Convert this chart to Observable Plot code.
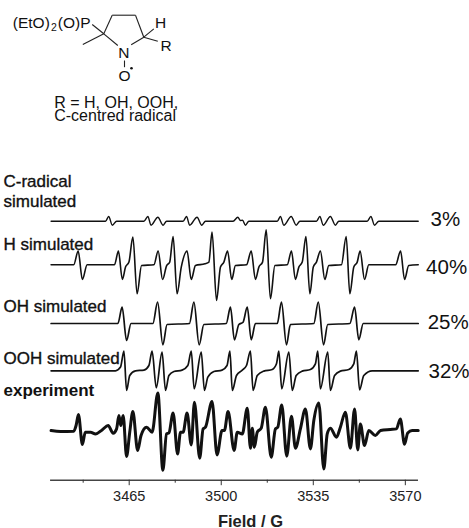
<!DOCTYPE html>
<html><head><meta charset="utf-8">
<script src="https://cdn.jsdelivr.net/npm/d3@7"></script>
<script src="https://cdn.jsdelivr.net/npm/@observablehq/plot@0.6"></script>
<style>html,body{margin:0;padding:0;background:#fff}svg{display:block}</style>
</head><body><div id="structureBox"></div><div id="chartBox"></div>
<script>
// ---- spectra: field (G) and intensity (a.u.)
const cField=[3435.3,3456.0,3457.2,3458.6,3460.2,3470.6,3472.1,3473.3,3475.9,3477.9,3479.2,3485.5,3486.8,3488.0,3490.8,3492.6,3494.0,3504.5,3506.3,3507.3,3508.1,3509.2,3510.5,3521.3,3522.5,3523.8,3526.6,3528.5,3529.9,3536.2,3537.5,3538.8,3541.5,3543.4,3544.7,3555.5,3556.9,3558.3,3559.9,3574.9];
const cValue=[0,0,4.7,-4,0,0,4.7,-4,4,-4,0,0,4.7,-4,4,-4,0,0,4,.7,1,-4,0,0,4.7,-4,4.7,-4,0,0,4.7,-4,4.7,-4,0,0,4.7,-4,0,0];
const hField=[3435.3,3443.9,3445.6,3447.2,3449.0,3459.4,3460.9,3462.4,3463.6,3464.9,3466.4,3468.0,3469.7,3474.4,3476.0,3477.7,3479.2,3480.4,3481.7,3483.2,3484.8,3487.0,3488.6,3490.2,3493.8,3495.3,3496.5,3498.2,3499.7,3501.0,3502.4,3504.0,3505.4,3509.6,3511.4,3513.0,3514.3,3515.7,3517.1,3518.7,3520.4,3525.1,3526.7,3528.2,3529.5,3530.8,3532.2,3533.7,3535.0,3536.2,3537.7,3539.4,3540.9,3545.7,3547.5,3548.9,3550.4,3551.7,3552.8,3554.5,3556.1,3566.3,3568.2,3569.7,3571.3,3574.9];
const hValue=[0,0,13.7,-14.7,0,0,13.7,-14.7,-2.3,2.7,27.7,-29,-.7,0,13.7,-14.7,-1,2.7,28.3,-29,-2.3,13.7,-14.7,-.7,1,2.7,32.7,-35.7,-2.3,2.7,13.7,-14.7,-.7,0,13.7,-14.7,-2.3,2.7,35,-34,-.7,0,13.7,-14.7,-2.3,2.7,28.3,-29,-2.3,2.7,13.7,-14.7,-.7,0,28.3,-29,-2.3,2.7,13.7,-14.7,0,0,13.7,-14.7,-.7,0];
const ohField=[3435.3,3460.7,3462.3,3464.0,3465.7,3474.0,3475.8,3477.8,3479.4,3487.9,3489.6,3491.6,3493.4,3501.9,3503.5,3505.0,3506.7,3508.3,3509.9,3511.4,3513.0,3521.3,3522.9,3524.8,3526.3,3535.2,3536.9,3538.9,3540.5,3548.9,3550.7,3552.3,3554.0,3574.9];
const ohValue=[0,0,16.3,-17,0,0,21.3,-21.3,-1,0,21.3,-21.3,-1,0,16.3,-16.3,-1,1.3,16.3,-16.3,0,0,21.3,-21.3,-1,0,21.3,-21.3,-1,0,16.3,-16.3,0,0];
const oohField=[3435.3,3459.8,3461.7,3463.0,3464.0,3465.2,3467.4,3470.6,3472.5,3473.7,3475.3,3477.5,3478.8,3480.1,3482.0,3485.1,3487.3,3488.6,3489.7,3492.4,3493.6,3494.9,3497.2,3500.3,3502.2,3503.3,3504.2,3505.8,3508.0,3509.6,3511.1,3512.1,3513.7,3516.2,3519.4,3521.0,3521.9,3523.0,3525.7,3527.0,3528.5,3530.8,3533.9,3535.8,3536.7,3537.7,3540.5,3541.5,3543.1,3545.3,3548.5,3550.4,3551.4,3552.6,3554.2,3557.4,3574.9];
const oohValue=[0,0,3.7,19.7,-19.7,-4.7,0,.7,5.3,19.7,-17,18.7,-19.7,-4.7,-.7,.7,5.3,19.7,-18,18.7,-19.7,-6.3,-.7,.7,5.3,19.7,-19.7,-4.7,.7,5.3,19.7,-19.7,-4.7,-.3,1.3,7,19.7,-18,18.7,-19.7,-4.7,-.3,1.3,7,19.7,-18,18.7,-19.7,-4.7,-.3,1.3,7,19.7,-19,-4.7,0,0];
const expField=[3435.3,3438.9,3443.9,3444.8,3445.7,3447.2,3448.3,3450.3,3452.2,3454.7,3457.0,3458.9,3460.2,3461.1,3461.8,3462.7,3464.0,3465.2,3466.4,3468.2,3469.5,3471.6,3473.7,3475.9,3477.8,3479.2,3480.1,3481.7,3483.4,3484.5,3485.5,3487.0,3488.6,3489.8,3491.8,3493.1,3494.0,3496.5,3498.4,3500.3,3501.2,3502.6,3504.9,3506.1,3508.0,3509.9,3511.1,3511.8,3512.6,3513.7,3515.2,3516.8,3519.0,3520.6,3521.5,3523.0,3524.9,3526.7,3528.2,3530.1,3532.0,3533.9,3535.2,3537.1,3539.0,3540.3,3541.5,3543.8,3545.3,3547.2,3549.1,3550.7,3551.9,3552.9,3554.5,3556.1,3558.6,3560.6,3564.3,3566.6,3568.1,3569.7,3570.9,3572.6,3574.9];
const expValue=[.7,-.3,0,5.7,16.7,-13.3,-1,-1,-2.7,1.3,5.7,-2,2.3,15.7,5.7,15.7,-25.3,-1,19.7,-19.3,-4.3,4,-1,38.3,-39,-2.7,-1.7,18.3,-22.7,-1,-1,18.3,-13.7,29,-27,2.3,4,29.7,-23.7,.7,.7,19.7,-19.3,-1,-2.7,23,-17,3,-16,-1,3,24,-26,2.3,4,26.3,-25,15,-17,2.3,22.3,-17.7,10.7,28.3,-37.7,-2.7,3,-6,4,19,-17,22.3,-18.7,7.3,-14.3,.7,-4.3,.7,1.7,2.3,12.3,-13,-1.7,.7,.7];

// vertical stacking of the traces and the labels
const offsets={c:307.3,h:263.7,oh:205,ooh:157.7,exp:97.3};
const axisLevel=48.3;
const majorTicks=[3465,3500,3535,3570];
const minorTicks=[3447.5,3482.5,3517.5,3552.5];
const fieldRange=[3435.1,3575];
const leftLabels=["C-radical","simulated","H simulated","OH simulated","OOH simulated"];
const leftLabelY=[341.3,321.3,279,216.3,165];
const percents=["3%","40%","25%","32%"];
const percentX=[3579.6,3577.9,3578.5,3578.8];
const percentY=[303,254.7,200,150.3];

const rows=(f,v,o)=>f.map((x,i)=>({x,y:v[i]+o}));
const sim={stroke:"#111",curve:"monotone-x",strokeLinejoin:"round"};
const fontFamily="Liberation Sans, Arial, sans-serif";

const chartSvg=Plot.plot({
  width:469,height:398,margin:0,
  x:{domain:[3416.06,3594.4],range:[0,469],axis:null},
  y:{domain:[0,398],range:[398,0],axis:null},
  style:{fontFamily,background:"#fff",color:"#111"},
  marks:[
    Plot.line(rows(cField,cValue,offsets.c),{x:"x",y:"y",...sim,strokeWidth:1.4}),
    Plot.line(rows(hField,hValue,offsets.h),{x:"x",y:"y",...sim,strokeWidth:1.6}),
    Plot.line(rows(ohField,ohValue,offsets.oh),{x:"x",y:"y",...sim,strokeWidth:1.7}),
    Plot.line(rows(oohField,oohValue,offsets.ooh),{x:"x",y:"y",...sim,strokeWidth:1.7}),
    Plot.line(rows(expField,expValue,offsets.exp),{x:"x",y:"y",...sim,strokeWidth:3}),
    Plot.ruleY([axisLevel],{x1:fieldRange[0],x2:fieldRange[1],stroke:"#444",strokeWidth:1.4}),
    Plot.ruleX(majorTicks,{y1:axisLevel,y2:axisLevel-5.5,stroke:"#333",strokeWidth:1}),
    Plot.ruleX(minorTicks,{y1:axisLevel,y2:axisLevel-3,stroke:"#333",strokeWidth:1}),
    Plot.text(majorTicks,{x:d=>d,y:28,text:d=>String(d),fontSize:14.5,lineAnchor:"bottom",fill:"#222"}),
    Plot.text(leftLabels,{y:(d,i)=>leftLabelY[i],text:d=>d,frameAnchor:"left",dx:3,textAnchor:"start",lineAnchor:"bottom",fontSize:17,fill:"#111",stroke:"#111",strokeWidth:.35}),
    Plot.text(["experiment"],{y:133,text:d=>d,frameAnchor:"left",dx:3,textAnchor:"start",lineAnchor:"bottom",fontSize:17,fontWeight:"bold",fill:"#111"}),
    Plot.text(percents,{x:(d,i)=>percentX[i],y:(d,i)=>percentY[i],text:d=>d,textAnchor:"start",lineAnchor:"bottom",fontSize:20.5,fill:"#111"}),
    Plot.text(["Field / G"],{x:3511.1,y:2,text:d=>d,fontSize:16.5,fontWeight:"bold",lineAnchor:"bottom",fill:"#222"})
  ]
});
document.getElementById("chartBox").append(chartSvg);

// ---- chemical structure above the spectra (drawing units)
const bondX1=[91.7,82.3,103.3,111.7,135,143.3,103.3,124,143.3,143.3];
const bondY1=[24,44,33.3,14.7,14.7,36.7,33.3,60,36.7,36.7];
const bondX2=[103.3,103.3,111.7,135,143.3,130.7,117.3,124,153.3,157.3];
const bondY2=[33.3,33.3,14.7,14.7,36.7,44.3,45,66.7,28.3,40.7];
const atoms=["(EtO)","(O)P","H","R"];
const atomX=[12.3,57.3,154.5,160];
const atomY=[27,27,27,50.7];
const centred=["N","O"];
const centredX=[123.3,124];
const centredY=[57.3,80.7];
const caption=["R = H, OH, OOH,\nC-centred radical"];

const structureSvg=Plot.plot({
  width:469,height:130,margin:0,
  x:{domain:[0,469],range:[0,469],axis:null},
  y:{domain:[0,130],range:[0,130],axis:null},
  style:{fontFamily,background:"#fff",color:"#111"},
  marks:[
    Plot.link(bondX1.map((d,i)=>i),{x1:i=>bondX1[i],y1:i=>bondY1[i],x2:i=>bondX2[i],y2:i=>bondY2[i],stroke:"#222",strokeWidth:1.1}),
    Plot.text(atoms,{x:(d,i)=>atomX[i],y:(d,i)=>atomY[i],text:d=>d,textAnchor:"start",lineAnchor:"bottom",fontSize:15.5,fill:"#111"}),
    Plot.text(["2"],{x:50.5,y:30.5,text:d=>d,textAnchor:"start",lineAnchor:"bottom",fontSize:10.5,fill:"#111"}),
    Plot.text(centred,{x:(d,i)=>centredX[i],y:(d,i)=>centredY[i],text:d=>d,lineAnchor:"bottom",fontSize:15.5,fill:"#111"}),
    Plot.dot([0],{x:131,y:67.7,r:1.3,fill:"#111"}),
    Plot.text(caption,{x:53.7,y:120.7,text:d=>d,textAnchor:"start",lineAnchor:"bottom",fontSize:16,lineHeight:.83,fill:"#111"})
  ]
});
document.getElementById("structureBox").append(structureSvg);
</script></body></html>
